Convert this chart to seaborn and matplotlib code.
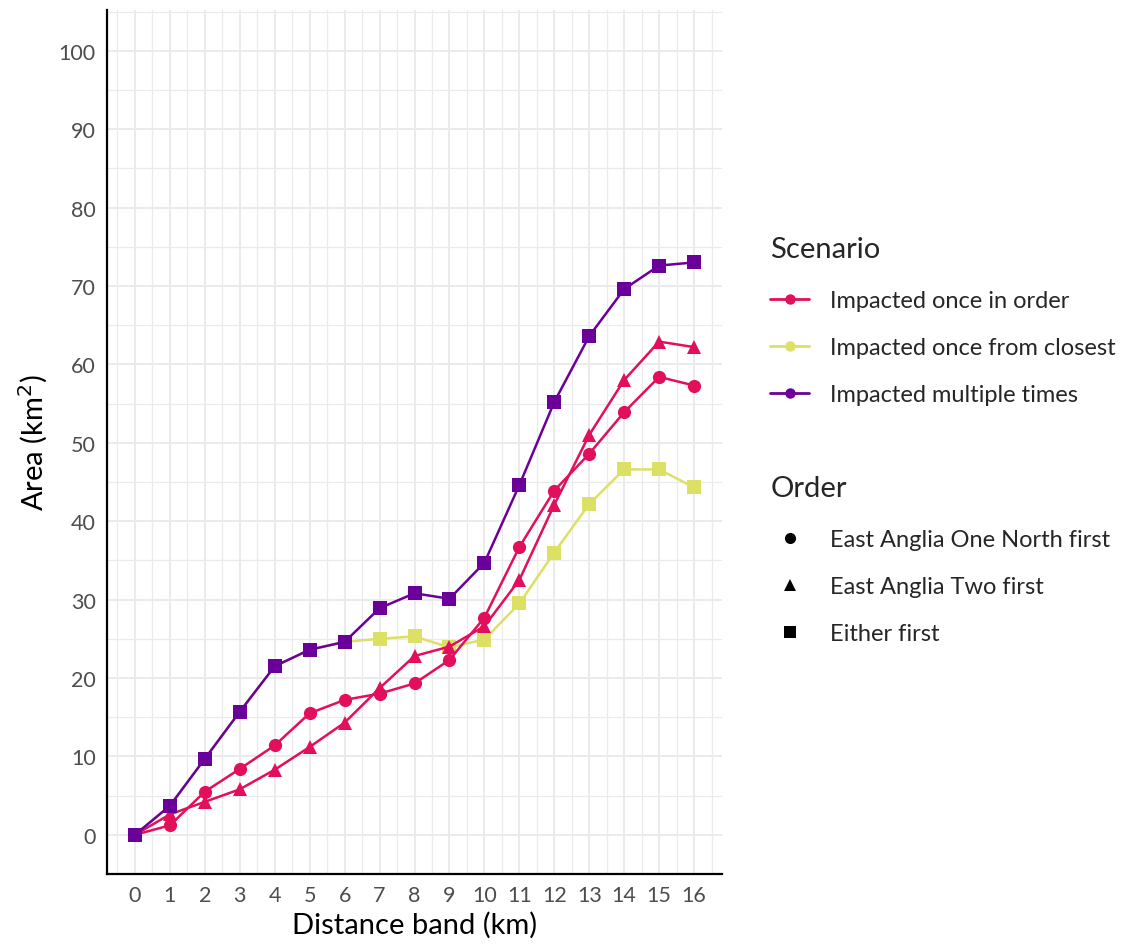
import numpy as np
import pandas as pd
import seaborn as sns
import matplotlib.pyplot as plt
from matplotlib.lines import Line2D
from matplotlib.ticker import MultipleLocator

# -------------------------------
# DATA
# -------------------------------
distance = list(range(17))

# Impacted once in order, East Anglia One North first (circles)
once_order_eaon = [0, 1.2, 5.5, 8.4, 11.4, 15.5, 17.2, 18.0, 19.3, 22.3,
                   27.7, 36.7, 43.9, 48.6, 53.9, 58.4, 57.3]
# Impacted once in order, East Anglia Two first (triangles)
once_order_eatwo = [0, 2.6, 4.2, 5.8, 8.3, 11.2, 14.3, 18.7, 22.8, 24.0,
                    26.6, 32.5, 42.1, 51.0, 58.0, 62.9, 62.2]
# Impacted once from closest, either first (squares)
once_closest = [0, 3.7, 9.7, 15.7, 21.5, 23.6, 24.6, 25.0, 25.3, 23.9,
                24.9, 29.5, 36.0, 42.2, 46.6, 46.6, 44.3]
# Impacted multiple times, either first (squares)
multiple = [0, 3.7, 9.7, 15.7, 21.5, 23.6, 24.6, 28.9, 30.8, 30.1,
            34.7, 44.6, 55.2, 63.6, 69.6, 72.6, 73.0]

scenarios = ["Impacted once in order", "Impacted once from closest", "Impacted multiple times"]
orders = ["East Anglia One North first", "East Anglia Two first", "Either first"]

colours = {
    "Impacted once in order": "#E20F5C",
    "Impacted once from closest": "#DCE064",
    "Impacted multiple times": "#6A0099",
}
markers = {
    "East Anglia One North first": "o",
    "East Anglia Two first": "^",
    "Either first": "s",
}

rows = []
for vals, sc, od in [
    (once_order_eaon, scenarios[0], orders[0]),
    (once_order_eatwo, scenarios[0], orders[1]),
    (once_closest, scenarios[1], orders[2]),
    (multiple, scenarios[2], orders[2]),
]:
    for d, v in zip(distance, vals):
        rows.append({"Distance": d, "Area": v, "Scenario": sc, "Order": od})
df = pd.DataFrame(rows)

# -------------------------------
# PLOT
# -------------------------------
sns.set_style("white")
plt.rcParams["font.family"] = ["Lato", "DejaVu Sans"]

fig = plt.figure(figsize=(11.31, 9.45), dpi=100)
ax = fig.add_axes([0.0946, 0.0741, 0.5438, 0.9143])

# draw order: yellow under the others, purple on top
sns.lineplot(
    data=df, x="Distance", y="Area",
    hue="Scenario", style="Order",
    hue_order=[scenarios[1], scenarios[0], scenarios[2]],
    style_order=orders,
    palette=colours, markers=markers, dashes=False,
    markersize=9.5, markeredgewidth=0, linewidth=1.8,
    errorbar=None, legend=False, ax=ax,
)

ax.set_xlim(-0.8, 16.8)
ax.set_ylim(-5.0, 105.2)
ax.xaxis.set_major_locator(MultipleLocator(1))
ax.xaxis.set_minor_locator(MultipleLocator(0.5))
ax.yaxis.set_major_locator(MultipleLocator(10))
ax.yaxis.set_minor_locator(MultipleLocator(5))
ax.set_yticks(np.arange(0, 101, 10))

ax.grid(True, which="major", color="#EBEBEB", linewidth=1.4)
ax.grid(True, which="minor", color="#EBEBEB", linewidth=0.9)
ax.set_axisbelow(True)

for s in ["top", "right"]:
    ax.spines[s].set_visible(False)
for s in ["left", "bottom"]:
    ax.spines[s].set_color("black")
    ax.spines[s].set_linewidth(1.6)

ax.tick_params(axis="both", which="major", length=5, width=1.3, color="#333333",
               labelsize=15.5, labelcolor="#4D4D4D", pad=3)
ax.tick_params(axis="both", which="minor", length=0)

ax.set_xlabel("Distance band (km)", fontsize=21, color="black", labelpad=4)
ax.set_ylabel("Area (km$^2$)", fontsize=21, color="black", labelpad=6)

# -------------------------------
# LEGENDS (ggplot-style, two blocks)
# -------------------------------
sc_handles = [Line2D([0], [0], color=colours[s], marker="o", markersize=7.5,
                     markeredgewidth=0, linewidth=2) for s in scenarios]
od_handles = [Line2D([0], [0], color="black", marker=markers[o], markersize=8,
                     markeredgewidth=0, linestyle="none") for o in orders]

leg_kw = dict(frameon=False, loc="upper left", fontsize=17, title_fontsize=21,
              handlelength=1.65, handletextpad=0.9, labelspacing=1.1,
              borderpad=0, borderaxespad=0, alignment="left")
leg1 = fig.legend(sc_handles, scenarios, title="Scenario",
                  bbox_to_anchor=(0.681, 0.749), **leg_kw)
leg2 = fig.legend(od_handles, orders, title="Order",
                  bbox_to_anchor=(0.681, 0.496), **leg_kw)
for lg in (leg1, leg2):
    lg._legend_box.sep = 20

fig.savefig("out.png", dpi=100)
